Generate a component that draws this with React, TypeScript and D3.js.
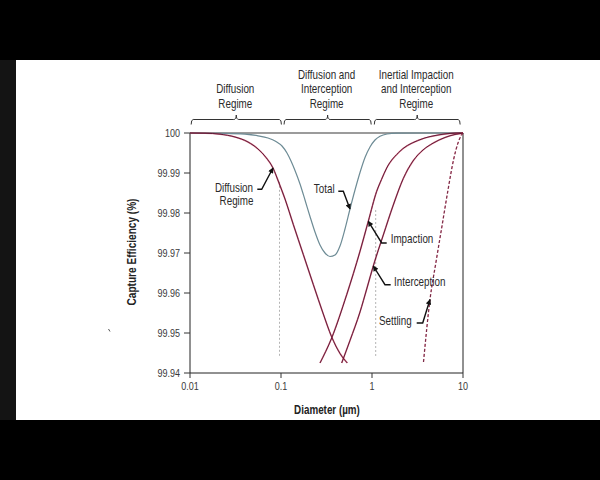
import React from "react";
import * as d3 from "d3";

// ---- data ----
const xTicks = [0.01, 0.1, 1, 10];
const xTickLabels = ["0.01", "0.1", "1", "10"];
const yTicks = [99.94, 99.95, 99.96, 99.97, 99.98, 99.99, 100];
const yTickLabels = ["99.94", "99.95", "99.96", "99.97", "99.98", "99.99", "100"];

const diffusion: [number, number][] = [
  [0.01, 100], [0.014619, 99.99995], [0.021373, 99.9997], [0.031227, 99.999], [0.043391, 99.99775],
  [0.055875, 99.996], [0.068413, 99.99388], [0.08167, 99.99125], [0.095065, 99.9875], [0.11065, 99.9835],
  [0.1365, 99.97713], [0.1758, 99.96963], [0.2264, 99.96213], [0.2916, 99.95475], [0.3607, 99.949],
  [0.4449, 99.94488], [0.5353, 99.9425],
];
const total: [number, number][] = [
  [0.01, 100], [0.024245, 99.99993], [0.040222, 99.9997], [0.055875, 99.9993], [0.071969, 99.99875],
  [0.088123, 99.99788], [0.10256, 99.99675], [0.11637, 99.995], [0.12879, 99.993], [0.14251, 99.99063],
  [0.16178, 99.98725], [0.18355, 99.98325], [0.20829, 99.97913], [0.23633, 99.97525], [0.26827, 99.972],
  [0.30443, 99.97], [0.34551, 99.96913], [0.39214, 99.9695], [0.4449, 99.97175], [0.5049, 99.976],
  [0.5731, 99.981], [0.6504, 99.98575], [0.7382, 99.99013], [0.8377, 99.99388], [0.9507, 99.9965],
  [1.079, 99.99825], [1.224, 99.99918], [1.462, 99.99975], [1.883, 99.99995], [3.369, 100], [10, 100],
];
const impaction: [number, number][] = [
  [0.26827, 99.9425], [0.36066, 99.94875], [0.5272, 99.95958], [0.7382, 99.97043], [0.9106, 99.97793],
  [1.126, 99.98543], [1.272, 99.98838], [1.451, 99.99125], [2.031, 99.99543], [3.369, 99.99833],
  [5.588, 99.99958], [9.268, 100], [10, 100],
];
const interception: [number, number][] = [
  [0.4645, 99.9425], [0.5731, 99.94813], [0.7382, 99.95525], [0.8812, 99.96125], [1.033, 99.96675],
  [1.331, 99.9745], [1.714, 99.982], [2.208, 99.98863], [2.822, 99.993], [3.635, 99.99575],
  [4.718, 99.9975], [6.342, 99.99888], [8.167, 99.99963], [10, 99.99995],
];
const settling: [number, number][] = [
  [3.681, 99.94275], [4.339, 99.95838], [5.05, 99.96775], [5.878, 99.97675], [6.841, 99.98575],
  [7.863, 99.99325], [8.812, 99.9975], [9.628, 99.9995], [10, 99.99993],
];

// dotted guide lines: [diameter, top value, bottom value]
const guides: [number, number, number][] = [
  [0.0963, 99.9878, 99.94425],
  [1.098, 99.98075, 99.94388],
];

const bracketRanges: [number, number][] = [[0.0103, 0.101], [0.108, 0.98], [1.06, 9.3]];
const regimeLabels: string[][] = [
  ["Diffusion", "Regime"],
  ["Diffusion and", "Interception", "Regime"],
  ["Inertial Impaction", "and Interception", "Regime"],
];

type Ann = {
  lines: string[];
  tip: [number, number];
  elbow: [number, number];
  end: [number, number];
  text: [number, number][];
  anchor: string;
};
// annotations: tip on curve (data), elbow/end/text offsets from tip (px)
const annotations: Ann[] = [
  { lines: ["Diffusion", "Regime"], tip: [0.08167, 99.99125], elbow: [-11.3, 21.3], end: [-15.7, 21.3], text: [[-39, 20], [-36.5, 33]], anchor: "middle" },
  { lines: ["Total"], tip: [0.5731, 99.981], elbow: [-6.7, -17.7], end: [-11.7, -17.7], text: [[-25.8, -20.5]], anchor: "middle" },
  { lines: ["Impaction"], tip: [0.9106, 99.97793], elbow: [13.4, 21.7], end: [18.4, 21.7], text: [[22.4, 17.7]], anchor: "start" },
  { lines: ["Interception"], tip: [1.033, 99.96675], elbow: [11.7, 18.7], end: [17.4, 18.7], text: [[20.7, 15.3]], anchor: "start" },
  { lines: ["Settling"], tip: [4.339, 99.95838], elbow: [-7.3, 23.5], end: [-13.3, 23.5], text: [[-18.3, 21.2]], anchor: "end" },
];

const FONT = '"Liberation Sans", Arial, Helvetica, sans-serif';
const CORE = "#521230";
const GLOW = "#c8284a";
const SX = 0.82;

function T(props: {
  x: number; y: number; children: React.ReactNode; anchor?: string; size?: number;
  weight?: string; fill?: string; sx?: number; rotate?: number;
}) {
  const { x, y, children, anchor = "start", size = 12, weight = "normal", fill = "#2a2a2a", sx = SX, rotate = 0 } = props;
  return (
    <text
      transform={`translate(${x},${y}) rotate(${rotate}) scale(${sx},1)`}
      dy="0.35em"
      textAnchor={anchor as any}
      fontSize={size}
      fontWeight={weight}
      fill={fill}
    >
      {children}
    </text>
  );
}

export default function App() {
  const x = d3.scaleLog().domain([0.01, 10]).range([190, 463]);
  const y = d3.scaleLinear().domain([99.94, 100]).range([373, 133]);
  const line = d3
    .line<[number, number]>()
    .x((d) => x(d[0]))
    .y((d) => y(d[1]))
    .curve(d3.curveMonotoneX);

  const redCurves = [diffusion, impaction, interception];

  return (
    <div style={{ position: "fixed", left: 0, top: 0, width: 600, height: 480 }}>
      <svg width={600} height={480} style={{ display: "block" }} fontFamily={FONT}>
        <defs>
          <marker id="ah" viewBox="0 0 10 10" refX="9" refY="5" markerWidth="7" markerHeight="5.5"
            markerUnits="userSpaceOnUse" orient="auto">
            <path d="M0,0 L10,5 L0,10 z" fill="#111" />
          </marker>
        </defs>
        <rect x={0} y={0} width={600} height={480} fill="#000" />
        <rect x={0} y={60} width={16} height={360} fill="#141414" />
        <rect x={16} y={60} width={584} height={360} fill="#fff" />
        {/* small stray mark seen in the source image */}
        <path d="M108.5,329 l1.5,2.5" stroke="#555" strokeWidth={1} />

        {/* brackets and regime labels */}
        {bracketRanges.map((r, i) => {
          const x0 = x(r[0]);
          const x1 = x(r[1]);
          const xm = (x0 + x1) / 2;
          const yb = 119.5;
          const p = `M${x0},124.5 Q${x0},${yb} ${x0 + 2},${yb} L${xm - 2.5},${yb} Q${xm},${yb} ${xm},115 Q${xm},${yb} ${xm + 2.5},${yb} L${x1 - 2},${yb} Q${x1},${yb} ${x1},124.5`;
          const lines = regimeLabels[i];
          return (
            <g key={i}>
              <path d={p} fill="none" stroke="#333" strokeWidth={1} />
              {lines.map((t, j) => (
                <T key={j} x={xm - 1} y={103.5 - (lines.length - 1 - j) * 14.5} anchor="middle">
                  {t}
                </T>
              ))}
            </g>
          );
        })}

        {/* dotted guides */}
        {guides.map((g, i) => (
          <line key={i} x1={x(g[0])} x2={x(g[0])} y1={y(g[1])} y2={y(g[2])} stroke="#b4b4b4" strokeWidth={1} strokeDasharray="2,2" />
        ))}

        {/* frame */}
        <line x1={x(0.01)} x2={x(10)} y1={y(100)} y2={y(100)} stroke="#7a7a7a" strokeWidth={1.5} />
        <line x1={x(10)} x2={x(10)} y1={y(100)} y2={y(99.94)} stroke="#222" strokeWidth={1} />
        <line x1={x(0.01)} x2={x(0.01)} y1={y(100)} y2={y(99.94)} stroke="#222" strokeWidth={1} />
        <line x1={x(0.01)} x2={x(10)} y1={y(99.94)} y2={y(99.94)} stroke="#222" strokeWidth={1} />

        {/* curves */}
        <path d={line(total) || ""} fill="none" stroke="#6d8b95" strokeWidth={1.2} />
        {redCurves.map((c, i) => (
          <g key={i}>
            <path d={line(c) || ""} fill="none" stroke={GLOW} strokeWidth={1.6} strokeOpacity={0.6} />
            <path d={line(c) || ""} fill="none" stroke={CORE} strokeWidth={0.9} />
          </g>
        ))}
        <path d={line(settling) || ""} fill="none" stroke={GLOW} strokeWidth={1.4} strokeOpacity={0.6} strokeDasharray="3,2" />
        <path d={line(settling) || ""} fill="none" stroke={CORE} strokeWidth={0.8} strokeDasharray="3,2" />

        {/* y axis ticks */}
        {yTicks.map((v, i) => (
          <g key={i}>
            <line x1={184} x2={x(0.01)} y1={y(v)} y2={y(v)} stroke="#333" strokeWidth={1} />
            <T x={180} y={y(v)} anchor="end" size={11} fill="#3a3a3a">
              {yTickLabels[i]}
            </T>
          </g>
        ))}
        {/* x axis ticks */}
        {xTicks.map((v, i) => (
          <g key={i}>
            <line x1={x(v)} x2={x(v)} y1={y(99.94)} y2={y(99.94) + 5} stroke="#333" strokeWidth={1} />
            <T x={x(v)} y={386} anchor="middle" size={11} fill="#3a3a3a">
              {xTickLabels[i]}
            </T>
          </g>
        ))}

        {/* axis titles */}
        <T x={327} y={409.5} anchor="middle" size={12} weight="bold" fill="#222">
          Diameter (µm)
        </T>
        <T x={131.5} y={252} rotate={-90} anchor="middle" size={12} weight="bold" fill="#222" sx={0.84}>
          Capture Efficiency (%)
        </T>

        {/* annotations */}
        {annotations.map((a, i) => {
          const tx = x(a.tip[0]);
          const ty = y(a.tip[1]);
          return (
            <g key={i}>
              <polyline
                points={`${tx + a.end[0]},${ty + a.end[1]} ${tx + a.elbow[0]},${ty + a.elbow[1]} ${tx},${ty}`}
                fill="none" stroke="#111" strokeWidth={1.4} markerEnd="url(#ah)" />
              {a.lines.map((t, j) => (
                <T key={j} x={tx + a.text[j][0]} y={ty + a.text[j][1]} anchor={a.anchor}>
                  {t}
                </T>
              ))}
            </g>
          );
        })}
      </svg>
    </div>
  );
}
